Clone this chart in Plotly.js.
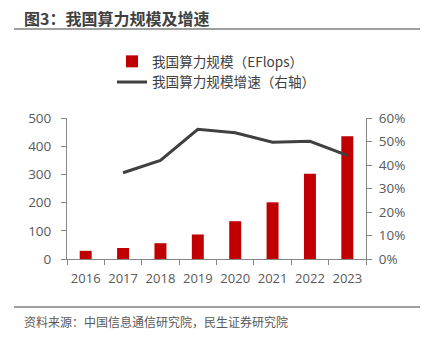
<!DOCTYPE html>
<html><head><meta charset="utf-8">
<script src="https://cdn.plot.ly/plotly-3.0.1.min.js"></script>
<style>html,body{margin:0;padding:0;background:#fff;}#chart{width:424px;height:343px;}</style>
</head><body><div id="chart"></div>
<script>
const years = ['2016','2017','2018','2019','2020','2021','2022','2023'];
const scale = [29, 39, 56, 87, 134, 201, 302, 435];
const growthYears = ['2017','2018','2019','2020','2021','2022','2023'];
const growth = [0.367, 0.42, 0.552, 0.537, 0.497, 0.501, 0.441];
const titleText = '图3：我国算力规模及增速';
const sourceText = '资料来源：中国信息通信研究院，民生证券研究院';
const barName = '我国算力规模（EFlops）';
const lineName = '我国算力规模增速（右轴）';

const FONT = '"Noto Sans CJK SC", "Noto Sans", sans-serif';
const NUMFONT = '"Open Sans", "Noto Sans", sans-serif';
const L = 67, R = 366, T = 118, B = 259, W = 424, H = 343;
const px = x => (x - L) / (R - L);
const py = y => (B - y) / (B - T);

const traces = [
  {type:'bar', x: years, y: scale, name: barName, marker:{color:'#C00000'}, width:0.32, legendgroup:'a'},
  {type:'scatter', mode:'lines', x: growthYears, y: growth, name: lineName, yaxis:'y2',
   line:{color:'#404040', width:3}, legendgroup:'b'}
];
const axisCommon = {showline:true, linecolor:'#868686', linewidth:1, ticks:'outside', ticklen:5,
  tickcolor:'#868686', showgrid:false, zeroline:false, tickangle:0,
  tickfont:{size:13.5, color:'#595959', family:NUMFONT}};
const layout = {
  width:W, height:H, margin:{l:L, r:W-R, t:T, b:H-B}, paper_bgcolor:'#fff', plot_bgcolor:'#fff',
  font:{family:FONT, color:'#404040'},
  showlegend:true,
  legend:{x:px(112), y:py(46), xanchor:'left', yanchor:'top', orientation:'v', bgcolor:'rgba(0,0,0,0)',
    font:{size:13.6, color:'#404040', family:FONT}, tracegroupgap:11, traceorder:'normal'},
  xaxis:Object.assign({}, axisCommon, {type:'category', tickson:'boundaries', categoryorder:'array', categoryarray: years,
    ticklabelstandoff:7, tickfont:{size:13, color:'#595959', family:NUMFONT}}),
  yaxis:Object.assign({}, axisCommon, {range:[0,500], dtick:100, ticklabelstandoff:7}),
  yaxis2:Object.assign({}, axisCommon, {overlaying:'y', side:'right', range:[0,0.6], dtick:0.1, tickformat:'.0%', ticklabelstandoff:4}),
  shapes:[
    {type:'line', xref:'paper', yref:'paper', x0:px(14), x1:px(420), y0:py(29), y1:py(29), line:{color:'#7f7f7f', width:1.5}},
    {type:'line', xref:'paper', yref:'paper', x0:px(14), x1:px(420), y0:py(307), y1:py(307), line:{color:'#7f7f7f', width:1.5}}
  ],
  annotations:[
    {text:'<b>'+titleText+'</b>', xref:'paper', yref:'paper', x:px(22), y:py(18), xanchor:'left', yanchor:'middle',
     showarrow:false, font:{size:16, color:'#404040', family:FONT}},
    {text:sourceText, xref:'paper', yref:'paper', x:px(22), y:py(321), xanchor:'left', yanchor:'middle',
     showarrow:false, font:{size:12, color:'#595959', family:FONT}}
  ]
};
Plotly.newPlot('chart', traces, layout, {displayModeBar:false, staticPlot:true});
</script></body></html>
